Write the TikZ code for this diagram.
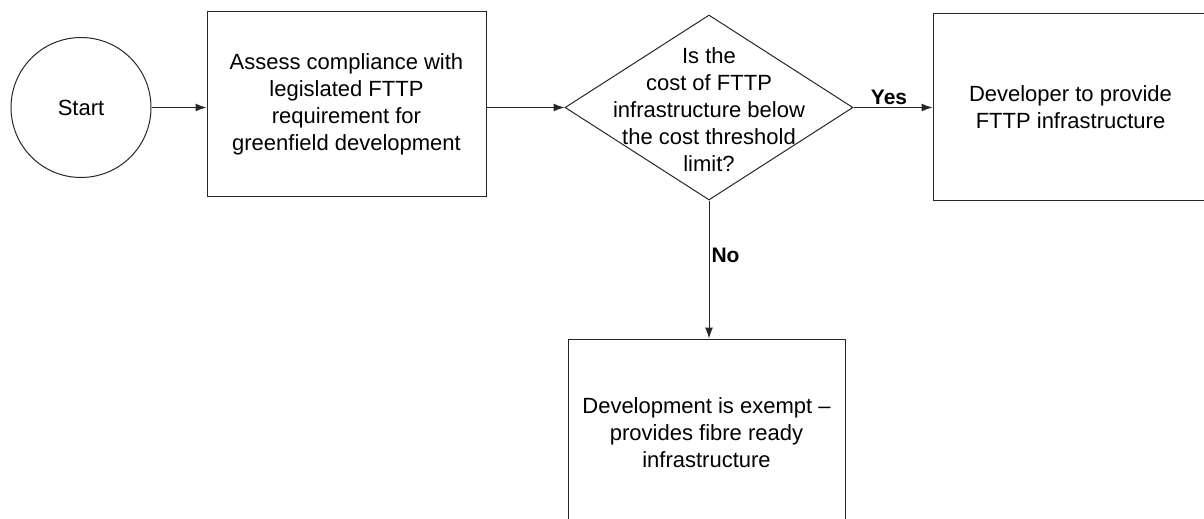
\documentclass[tikz,border=0pt]{standalone}
\usepackage{fontspec}
\setmainfont{Liberation Sans}
\usetikzlibrary{shapes.geometric,arrows.meta}
\begin{document}
\begin{tikzpicture}[x=1pt,y=-1pt,
  every node/.style={font=\fontsize{22}{27}\selectfont},
  procbox/.style={draw=black!85, line width=1pt, inner sep=0pt, align=center},
  conn/.style={draw=black!85, line width=1pt, -{Latex[length=11pt,width=8pt]}},
  lbl/.style={font=\fontsize{21}{25}\selectfont\bfseries, inner sep=2pt}]
\useasboundingbox (0,0) rectangle (1204,519);
\node[circle, draw=black!85, line width=1pt, minimum size=140pt, inner sep=0pt] (start) at (81,107.5) {Start};
\node[procbox, minimum width=279pt, minimum height=184pt] (assess) at (346.5,104)
  {Assess compliance with\\legislated FTTP\\requirement for\\greenfield development};
\node[diamond, draw=black!85, line width=1pt, minimum width=288pt, minimum height=185pt, inner sep=0pt] (dec) at (709,107.5) {};
\node[align=center, inner sep=0pt] (dectext) at (709,110)
  {Is the\\cost of FTTP\\infrastructure below\\the cost threshold\\limit?};
\node[procbox, minimum width=275pt, minimum height=186pt] (dev) at (1070.5,107)
  {Developer to provide\\FTTP infrastructure};
\node[procbox, minimum width=277pt, minimum height=188pt] (exempt) at (706.5,433)
  {Development is exempt --\\provides fibre ready\\infrastructure};
\draw[conn] (start.east) -- (assess.west |- start.east);
\draw[conn] (assess.east |- dec.west) -- (dec.west);
\draw[conn] (dec.east) -- node[lbl, above, pos=0.45] {Yes} (dev.west |- dec.east);
\draw[conn] (dec.south) -- node[lbl, right, pos=0.4] {No} (dec.south |- exempt.north);
\end{tikzpicture}
\end{document}
